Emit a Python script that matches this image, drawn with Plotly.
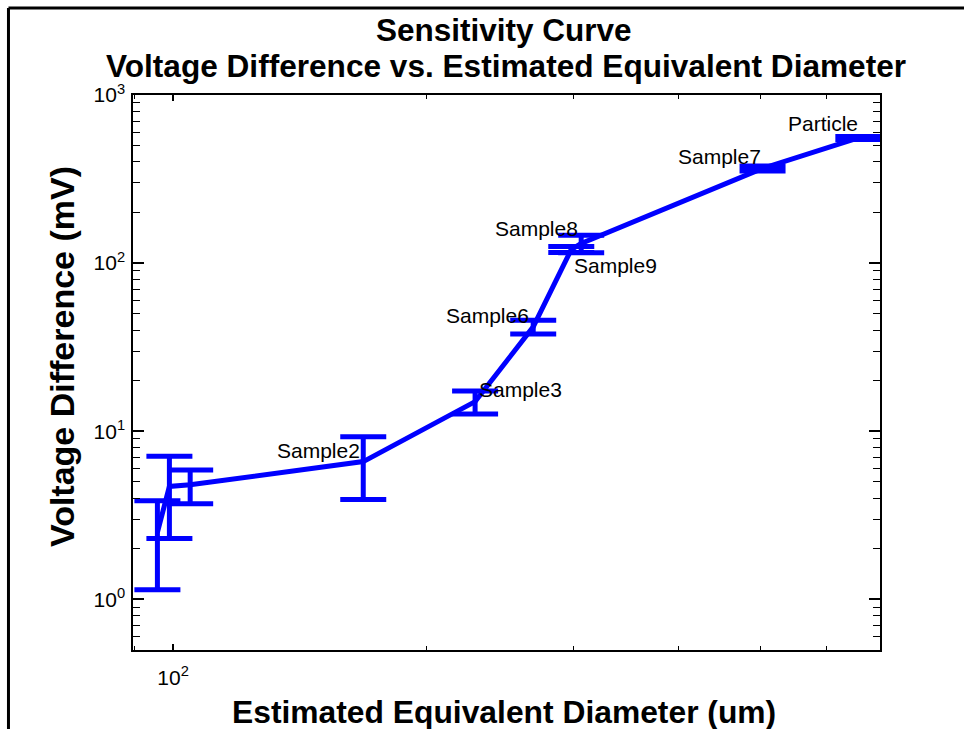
import numpy as np
import plotly.graph_objects as go

# Sensitivity curve data: equivalent diameter (um) vs. voltage difference (mV)
diameter_um = [95.8, 99.0, 104.8, 168.4, 228.8, 268.3, 297.8, 306.0, 503.0, 654.0]
voltage_mv = [2.5, 4.7, 4.8, 6.6, 15.0, 41.8, 120.5, 131.0, 366.0, 555.0]
voltage_err = [1.36, 2.4, 1.09, 2.67, 2.35, 3.95, 5.0, 15.6, 12.5, 12.0]
point_labels = ["", "", "", "Sample2", "Sample3", "Sample6", "Sample9", "Sample8", "Sample7", "Particle"]

# label placement: (anchor, xshift px, yshift px)
label_place = {
    "Sample2": ("right", -1, 11),
    "Sample3": ("left", 2, 12),
    "Sample6": ("right", -2, 11),
    "Sample9": ("left", 1, -16),
    "Sample8": ("right", -1, 15),
    "Sample7": ("right", 0, 12),
    "Particle": ("right", 2, 14),
}

BLUE = "#0000ff"
FONT = "Liberation Sans, Arial, Helvetica, sans-serif"

fig = go.Figure()
fig.add_trace(go.Scatter(
    x=diameter_um, y=voltage_mv, mode="lines",
    line=dict(color=BLUE, width=5),
    error_y=dict(type="data", array=voltage_err, visible=True,
                 color=BLUE, thickness=5, width=23),
    showlegend=False, hoverinfo="skip",
))

annotations = []
for xv, yv, name in zip(diameter_um, voltage_mv, point_labels):
    if not name:
        continue
    anchor, dx, dy = label_place[name]
    annotations.append(dict(
        x=np.log10(xv), y=np.log10(yv), xref="x", yref="y",
        text=name, showarrow=False, xanchor=anchor, yanchor="middle",
        xshift=dx, yshift=dy, font=dict(family=FONT, size=21, color="black"),
    ))

# titles
annotations += [
    dict(x=0.4967, y=1.117, xref="paper", yref="paper", text="<b>Sensitivity Curve</b>",
         showarrow=False, xanchor="center", yanchor="middle",
         font=dict(family=FONT, size=31.5, color="black")),
    dict(x=0.4993, y=1.052, xref="paper", yref="paper",
         text="<b>Voltage Difference vs. Estimated Equivalent Diameter</b>",
         showarrow=False, xanchor="center", yanchor="middle",
         font=dict(family=FONT, size=31.6, color="black")),
    dict(x=0.4967, y=-0.112, xref="paper", yref="paper",
         text="<b>Estimated Equivalent Diameter (um)</b>",
         showarrow=False, xanchor="center", yanchor="middle",
         font=dict(family=FONT, size=31.8, color="black")),
    dict(x=-0.095, y=0.528, xref="paper", yref="paper",
         text="<b>Voltage Difference (mV)</b>", textangle=-90,
         showarrow=False, xanchor="center", yanchor="middle",
         font=dict(family=FONT, size=34, color="black")),
]

x_ticks = [100]
y_ticks = [1, 10, 100, 1000]

axis_common = dict(
    type="log", showgrid=False, zeroline=False,
    showline=True, linecolor="black", linewidth=1.5, mirror="allticks",
    ticks="inside", tickcolor="black", tickwidth=1.5,
    tickfont=dict(family=FONT, size=21, color="black"),
    tickmode="array",
)

fig.update_xaxes(
    **axis_common,
    range=[np.log10(89.6), np.log10(694)],
    tickvals=x_ticks,
    ticktext=[f"10<sup>{int(np.log10(v))}</sup>" for v in x_ticks],
    ticklen=6, ticklabelstandoff=8,
    minor=dict(ticks="inside", dtick="D1", ticklen=4, tickcolor="black", tickwidth=1.2, showgrid=False),
)
fig.update_yaxes(
    **axis_common,
    range=[np.log10(0.5), 3],
    tickvals=y_ticks,
    ticktext=[f"10<sup>{int(np.log10(v))}</sup>" for v in y_ticks],
    ticklen=11, ticklabelstandoff=2,
    minor=dict(ticks="inside", dtick="D1", ticklen=7, tickcolor="black", tickwidth=1.2, showgrid=False),
)

# outer frame lines (top and left)
frame = [
    dict(type="line", xref="paper", yref="paper", x0=-0.1667, x1=1.12, y0=1.1568, y1=1.1568,
         line=dict(color="black", width=3)),
    dict(type="line", xref="paper", yref="paper", x0=-0.1667, x1=-0.1667, y0=-0.15, y1=1.1568,
         line=dict(color="black", width=3)),
]

fig.update_layout(
    width=964, height=729,
    margin=dict(l=133, r=84, t=95, b=79),
    paper_bgcolor="white", plot_bgcolor="white",
    annotations=annotations, shapes=frame,
    font=dict(family=FONT, color="black"),
)

fig.write_html("out.html")
